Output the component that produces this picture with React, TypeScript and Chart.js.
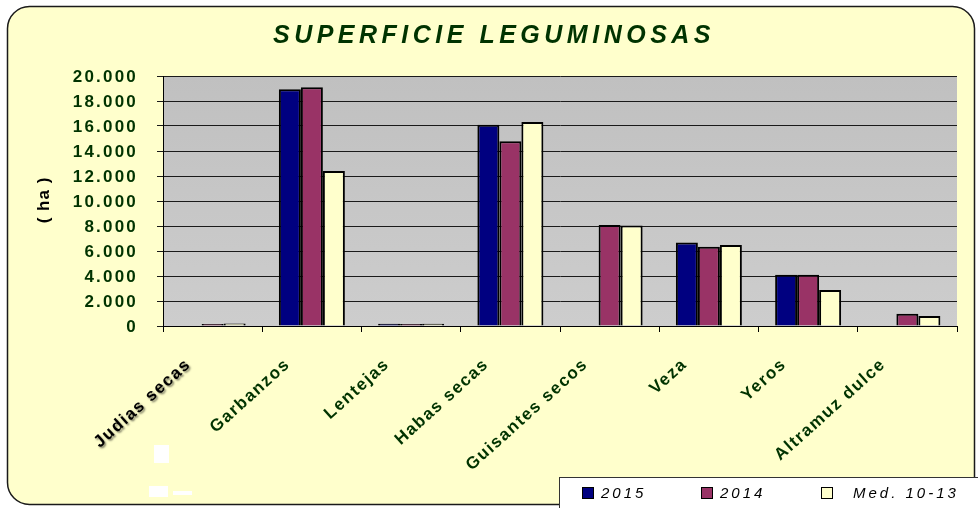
import React, { useEffect, useRef } from "react";
import { Chart, registerables } from "chart.js";

Chart.register(...registerables);

const W = 978;
const H = 508;

const chartTitle = "SUPERFICIE LEGUMINOSAS";
const yAxisTitle = "( ha )";
const categories = [
  "Judias secas",
  "Garbanzos",
  "Lentejas",
  "Habas secas",
  "Guisantes secos",
  "Veza",
  "Yeros",
  "Altramuz dulce",
];
const seriesLabels = ["2015", "2014", "Med. 10-13"];
const values2015 = [0, 18950, 180, 16100, 0, 6680, 4100, 0];
const values2014 = [170, 19100, 160, 14780, 8080, 6340, 4100, 980];
const valuesMed = [200, 12400, 180, 16320, 8040, 6480, 2880, 800];
const seriesColors = ["#000080", "#993366", "#FFFFCC"];
const yMin = 0;
const yMax = 20000;
const yStep = 2000;

const fmt = (v: number) =>
  String(Math.round(v)).replace(/\B(?=(\d{3})+(?!\d))/g, ".");

const FONT = "'Liberation Sans', Arial, sans-serif";

const customPlugin = {
  id: "customDecor",
  beforeDraw(chart: any) {
    const { ctx, chartArea: a } = chart;
    ctx.save();
    ctx.fillStyle = "#ffffff";
    ctx.fillRect(0, 0, W, H);
    ctx.beginPath();
    ctx.roundRect(7.5, 6.5, 967, 498, 22);
    ctx.fillStyle = "#FFFFCC";
    ctx.fill();
    ctx.lineWidth = 1.5;
    ctx.strokeStyle = "#1a1a1a";
    ctx.stroke();
    const g = ctx.createLinearGradient(0, a.top, 0, a.bottom);
    g.addColorStop(0, "#C0C0C0");
    g.addColorStop(1, "#CDCDCD");
    ctx.fillStyle = g;
    ctx.fillRect(a.left, a.top, a.right - a.left, a.bottom - a.top);
    ctx.restore();
  },
  afterDraw(chart: any) {
    const { ctx } = chart;
    const xs = chart.scales.x;
    const ys = chart.scales.y;
    ctx.save();

    // title
    ctx.font = `italic bold 25px ${FONT}`;
    (ctx as any).letterSpacing = "4.5px";
    ctx.fillStyle = "#003300";
    ctx.textAlign = "center";
    ctx.textBaseline = "alphabetic";
    ctx.fillText(chartTitle, 492 + 2, 43);

    // y tick labels
    ctx.font = `bold 17px ${FONT}`;
    (ctx as any).letterSpacing = "2.2px";
    ctx.textAlign = "right";
    ctx.fillStyle = "#003300";
    for (let v = yMin; v <= yMax; v += yStep) {
      const y = ys.getPixelForValue(v);
      ctx.fillText(fmt(v), 138, y + 6);
    }

    // y title
    ctx.save();
    ctx.translate(49, 200);
    ctx.rotate(-Math.PI / 2);
    ctx.font = `bold 17px ${FONT}`;
    (ctx as any).letterSpacing = "1px";
    ctx.textAlign = "center";
    ctx.fillStyle = "#000000";
    ctx.fillText(yAxisTitle, 0, 0);
    ctx.restore();

    // x labels
    ctx.font = `bold 17px ${FONT}`;
    (ctx as any).letterSpacing = "1.5px";
    categories.forEach((c, i) => {
      const cx = xs.getPixelForValue(i);
      ctx.save();
      ctx.translate(cx - 24, 362);
      ctx.rotate((-42 * Math.PI) / 180);
      ctx.textAlign = "right";
      ctx.textBaseline = "middle";
      if (i === 0) {
        ctx.shadowColor = "rgba(0,0,0,0.5)";
        ctx.shadowOffsetX = 1.5;
        ctx.shadowOffsetY = 1.5;
        ctx.shadowBlur = 2;
        ctx.fillStyle = "#000000";
      } else {
        ctx.fillStyle = "#003300";
      }
      ctx.fillText(c, 0, 0);
      ctx.restore();
    });

    // legend
    (ctx as any).letterSpacing = "0px";
    ctx.fillStyle = "#ffffff";
    ctx.fillRect(559, 477, 430, 40);
    ctx.strokeStyle = "#333333";
    ctx.lineWidth = 1;
    ctx.strokeRect(559.5, 477.5, 430, 40);
    const items = [
      { sx: 582, tx: 601 },
      { sx: 701, tx: 720 },
      { sx: 821, tx: 853 },
    ];
    ctx.font = `italic 15px ${FONT}`;
    (ctx as any).letterSpacing = "3px";
    ctx.textAlign = "left";
    ctx.textBaseline = "alphabetic";
    chart.data.datasets.forEach((ds: any, i: number) => {
      const it = items[i];
      ctx.fillStyle = ds.backgroundColor;
      ctx.fillRect(it.sx, 487, 11, 11);
      ctx.strokeStyle = "#000";
      ctx.lineWidth = 1;
      ctx.strokeRect(it.sx + 0.5, 487.5, 11, 11);
      ctx.fillStyle = "#000000";
      ctx.fillText(ds.label, it.tx, 498);
    });

    // small white marks
    ctx.fillStyle = "#ffffff";
    ctx.fillRect(154, 445, 15, 18);
    ctx.fillRect(149, 486, 19, 11);
    ctx.fillRect(173, 491, 19, 4);

    ctx.restore();
  },
};

export default function App() {
  const ref = useRef<HTMLCanvasElement>(null);
  useEffect(() => {
    if (!ref.current) return;
    const mk = (label: string, data: number[], color: string) => ({
      label,
      data,
      backgroundColor: color,
      borderColor: "#000000",
      borderWidth: 2,
      categoryPercentage: 0.665,
      barPercentage: 1.0,
    });
    const chart = new Chart(ref.current, {
      type: "bar",
      data: {
        labels: categories,
        datasets: [
          mk(seriesLabels[0], values2015, seriesColors[0]),
          mk(seriesLabels[1], values2014, seriesColors[1]),
          mk(seriesLabels[2], valuesMed, seriesColors[2]),
        ],
      },
      options: {
        responsive: false,
        animation: false,
        devicePixelRatio: 1,
        layout: { padding: { left: 0, right: 21, top: 76, bottom: 0 } },
        plugins: {
          legend: { display: false },
          title: { display: false },
          tooltip: { enabled: false },
        },
        scales: {
          x: {
            type: "category",
            offset: true,
            grid: {
              display: true,
              drawOnChartArea: false,
              drawTicks: true,
              tickLength: 6,
              offset: true,
              color: "#000000",
            },
            border: { display: true, color: "#000000", width: 1 },
            ticks: { display: false },
            afterFit: (s: any) => {
              s.height = H - 326;
            },
          },
          y: {
            min: yMin,
            max: yMax,
            ticks: { display: false, stepSize: yStep },
            grid: {
              color: "#1a1a1a",
              lineWidth: 1,
              drawTicks: true,
              tickLength: 6,
            },
            border: { display: true, color: "#000000", width: 1 },
            afterFit: (s: any) => {
              s.width = 163;
            },
          },
        },
      },
      plugins: [customPlugin],
    } as any);
    return () => chart.destroy();
  }, []);
  return (
    <div style={{ position: "absolute", left: 0, top: 0, width: W, height: H }}>
      <canvas ref={ref} width={W} height={H} style={{ width: W, height: H, display: "block" }} />
    </div>
  );
}
